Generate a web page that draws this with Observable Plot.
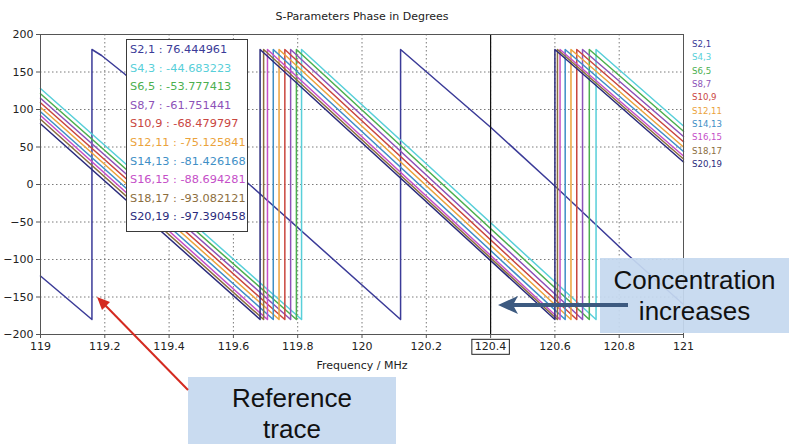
<!DOCTYPE html>
<html><head><meta charset="utf-8">
<script src="https://cdn.jsdelivr.net/npm/d3@7"></script>
<script src="https://cdn.jsdelivr.net/npm/@observablehq/plot@0.6"></script>
<style>
body{margin:0;background:#fff;}
#wrap{position:relative;width:789px;height:444px;overflow:hidden;font-family:"DejaVu Sans",sans-serif;background:#fff;}
#wrap svg.chart{position:absolute;left:0;top:0;}
.title{position:absolute;top:10px;left:362px;transform:translateX(-50%);font-size:11px;color:#222;white-space:nowrap;}
.cursorbox{position:absolute;left:126px;top:39px;width:122px;height:193px;box-sizing:border-box;border:1.5px solid #3a3a3a;background:#fff;padding:1px 0 0 3px;font-size:11.3px;line-height:18.6px;white-space:nowrap;}
.rlegend{position:absolute;left:692px;top:38px;font-size:8.6px;line-height:13.35px;white-space:nowrap;}
.callout{position:absolute;background:rgba(197,216,239,0.93);font-family:"Liberation Sans",Arial,sans-serif;font-size:26px;color:#111;text-align:center;line-height:31px;}
svg.arrows{position:absolute;left:0;top:0;pointer-events:none;}
</style></head><body><div id="wrap"></div>
<script>
// ---- data ----
const seriesNames = ["S2,1","S4,3","S6,5","S8,7","S10,9","S12,11","S14,13","S16,15","S18,17","S20,19"];
const lineColors  = ["#3b3b98","#58cfd9","#4caf4f","#8d52b8","#c9463f","#eba33c","#3f8fc6","#c54fc8","#8c6e3e","#2b2b7c"];
const cursorFreq = 120.4;
const cursorValues = [76.444961,-44.683223,-53.777413,-61.751441,-68.479797,-75.125841,-81.426168,-88.694281,-93.082121,-97.390458];
// reference trace S2,1 (frequency MHz, phase deg)
const refFreq  = [119, 119.16, 119.16, 119.19, 119.26, 119.65, 120.12, 120.12, 120.4, 120.6, 120.83, 121];
const refPhase = [-122, -180, 180, 172, 148, 0, -180, 180, 76.4, -2, -95, -160];
// traces S4,3 ... S20,19
const startPhase = [128, 121, 115, 109, 103, 97, 92, 87, 81];            // at 119 MHz
const firstWrap  = [119.812,119.796,119.778,119.760,119.742,119.724,119.706,119.694,119.683];
const secondWrap = [120.728,120.707,120.686,120.668,120.650,120.632,120.616,120.608,120.600];
const endPhase   = [78, 71, 64, 57, 50, 44, 38, 34, 30];                  // at 121 MHz
const xTicks = [119,119.2,119.4,119.6,119.8,120,120.2,120.4,120.6,120.8,121];
const yTicks = [-200,-150,-100,-50,0,50,100,150,200];

// ---- build table ----
const rows = [];
refFreq.forEach((f,i)=>rows.push({s:seriesNames[0], f, p:refPhase[i]}));
startPhase.forEach((st,k)=>{
  const s = seriesNames[k+1];
  rows.push({s,f:119,p:st});
  rows.push({s,f:firstWrap[k],p:-180});
  rows.push({s,f:firstWrap[k],p:180});
  rows.push({s,f:secondWrap[k],p:-180});
  rows.push({s,f:secondWrap[k],p:180});
  rows.push({s,f:121,p:endPhase[k]});
});

const wrap = document.getElementById("wrap");
const chart = Plot.plot({
  width:789, height:444,
  marginLeft:40, marginRight:106, marginTop:34, marginBottom:110,
  style:{fontFamily:"DejaVu Sans, sans-serif", fontSize:"11px", color:"#222", background:"transparent"},
  x:{domain:[119,121]},
  y:{domain:[-200,200]},
  color:{domain:seriesNames, range:lineColors},
  marks:[
    Plot.gridX(xTicks,{stroke:"#7a7a7a", strokeOpacity:1, strokeDasharray:"1.5,2.5"}),
    Plot.gridY(yTicks,{stroke:"#7a7a7a", strokeOpacity:1, strokeDasharray:"1.5,2.5"}),
    Plot.line(rows,{x:"f", y:"p", z:"s", stroke:"s", strokeWidth:1.5}),
    Plot.ruleX([cursorFreq],{stroke:"#111", strokeWidth:1.2}),
    Plot.frame({stroke:"#555"}),
    Plot.axisX(xTicks,{tickSize:4, tickPadding:4, stroke:"#555", tickFormat:d=>String(+d.toFixed(1)),
      label:"Frequency / MHz", labelAnchor:"center", labelArrow:"none", labelOffset:34}),
    Plot.axisY(yTicks,{tickSize:4, tickPadding:3, stroke:"#555", label:null})
  ]
});
chart.classList.add("chart");
wrap.appendChild(chart);

// box around the cursor tick label
chart.querySelectorAll("text").forEach(t=>{
  if (t.textContent === String(cursorFreq)) {
    const b = t.getBBox();
    const r = document.createElementNS("http://www.w3.org/2000/svg","rect");
    r.setAttribute("x", b.x-3); r.setAttribute("y", b.y-1);
    r.setAttribute("width", b.width+6); r.setAttribute("height", b.height+2);
    r.setAttribute("fill","none"); r.setAttribute("stroke","#222"); r.setAttribute("stroke-width","1");
    const tr = t.getAttribute("transform");
    if (tr) r.setAttribute("transform", tr);
    t.parentNode.insertBefore(r, t);
  }
});

// title
const title = document.createElement("div");
title.className = "title"; title.textContent = "S-Parameters Phase in Degrees";
wrap.appendChild(title);

// cursor read-out box
const cb = document.createElement("div");
cb.className = "cursorbox";
seriesNames.forEach((n,i)=>{
  const d = document.createElement("div");
  d.style.color = lineColors[i];
  d.textContent = `${n} : ${cursorValues[i].toFixed(6)}`;
  cb.appendChild(d);
});
wrap.appendChild(cb);

// right legend
const rl = document.createElement("div");
rl.className = "rlegend";
seriesNames.forEach((n,i)=>{
  const d = document.createElement("div");
  d.style.color = lineColors[i];
  d.textContent = n;
  rl.appendChild(d);
});
wrap.appendChild(rl);

// callouts
function callout(left, top, w, h, lines, padTop){
  const c = document.createElement("div");
  c.className = "callout";
  Object.assign(c.style,{left:left+"px", top:top+"px", width:w+"px", height:h+"px", paddingTop:padTop+"px", boxSizing:"border-box"});
  c.innerHTML = lines.join("<br>");
  wrap.appendChild(c);
}
callout(188, 377, 208, 67, ["Reference","trace"], 6);
callout(600, 258, 189, 75, ["Concentration","increases"], 7);

// arrows
const ns = "http://www.w3.org/2000/svg";
const ar = document.createElementNS(ns,"svg");
ar.setAttribute("class","arrows"); ar.setAttribute("width",789); ar.setAttribute("height",444);
ar.innerHTML = `
  <line x1="188" y1="390" x2="104" y2="304" stroke="#d42a20" stroke-width="2"/>
  <polygon points="97,297 110,302 102,310" fill="#d42a20"/>
  <line x1="628" y1="305" x2="512" y2="305" stroke="#3d5a80" stroke-width="4"/>
  <polygon points="498,305 518,296 513,305 518,314" fill="#3d5a80"/>
`;
wrap.appendChild(ar);
</script>
</body></html>
